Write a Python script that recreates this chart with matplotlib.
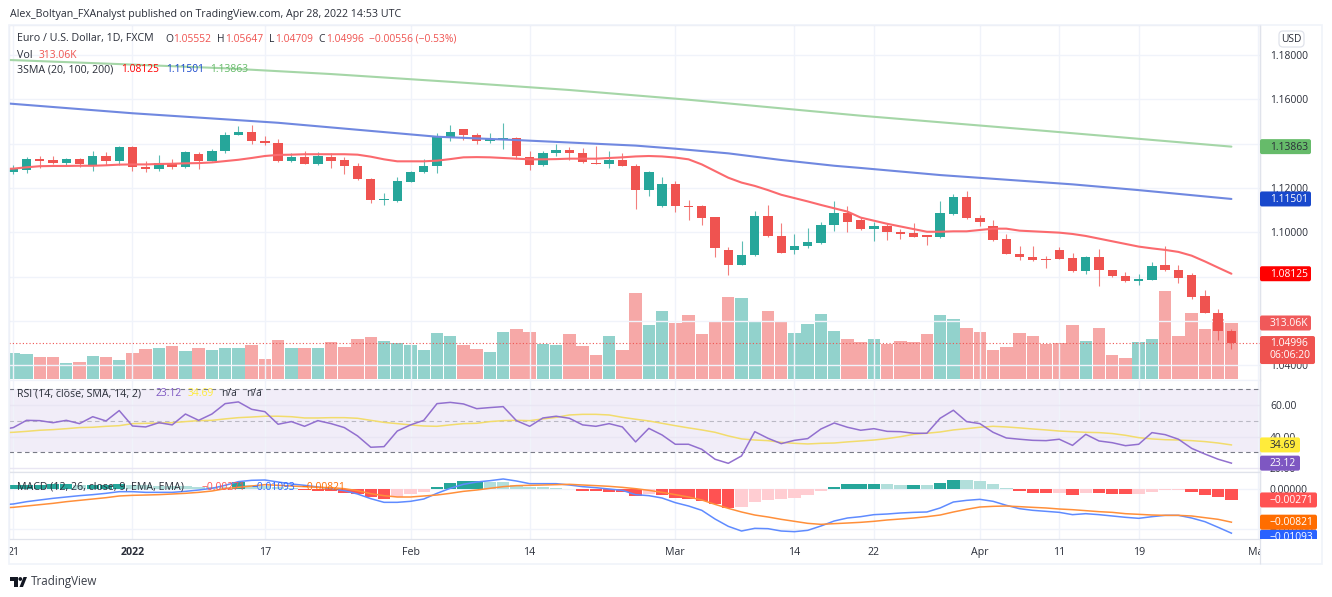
import numpy as np
import matplotlib
matplotlib.use("Agg")
import matplotlib.pyplot as plt
from matplotlib.patches import FancyBboxPatch, Polygon, Rectangle, Circle
from matplotlib.transforms import Bbox, IdentityTransform

plt.rcParams['font.family'] = ['Open Sans', 'DejaVu Sans']

opens = [1.1273,1.1282,1.1329,1.1324,1.1312,1.1329,1.1303,1.1344,1.1323,1.1385,1.1294,1.1285,1.1311,1.1293,1.1351,1.1321,1.1365,1.1439,1.1454,1.1410,1.1404,1.1321,1.1341,1.1308,1.1341,1.1324,1.1300,1.1242,1.1144,1.1139,1.1228,1.1270,1.1300,
 1.1430,1.1464,1.1440,1.1412,1.1418,1.1427,1.1338,1.1303,1.1356,1.1370,1.1356,1.1314,1.1308,1.1324,1.1300,1.1190,1.1117,1.1218,1.1118,1.1118,1.1067,1.0918,1.0852,1.0895,1.1075,1.0983,1.0918,1.0938,1.0953,1.1031,1.1088,
 1.1055,1.1013,1.1030,1.1002,1.0996,1.0987,1.0980,1.1082,1.1159,1.1066,1.1028,1.0969,1.0903,1.0890,1.0880,1.0920,1.0884,1.0825,1.0890,1.0829,1.0802,1.0781,1.0786,1.0850,1.0829,1.0805,1.0710,1.0637,1.05552]
closes = [1.1288,1.1329,1.1321,1.1312,1.1329,1.1306,1.1344,1.1323,1.1385,1.1293,1.1285,1.1311,1.1294,1.1362,1.1321,1.1368,1.1440,1.1454,1.1413,1.1403,1.1323,1.1341,1.1308,1.1345,1.1323,1.1300,1.1239,1.1144,1.1148,1.1231,1.1270,1.1300,1.1434,
 1.1451,1.1440,1.1413,1.1419,1.1427,1.1342,1.1303,1.1358,1.1370,1.1356,1.1317,1.1308,1.1324,1.1300,1.1190,1.1272,1.1218,1.1117,1.1115,1.1064,1.0929,1.0852,1.0895,1.1075,1.0981,1.0907,1.0939,1.0954,1.1031,1.1088,1.1047,
 1.1013,1.1030,1.1001,1.0993,1.0980,1.0980,1.1085,1.1159,1.1063,1.1046,1.0966,1.0902,1.0888,1.0874,1.0876,1.0880,1.0825,1.0890,1.0828,1.0804,1.0778,1.0787,1.0849,1.0828,1.0795,1.0707,1.0635,1.0552,1.04996]
highs = [1.1303,1.1341,1.1344,1.1344,1.1336,1.1336,1.1368,1.1362,1.1389,1.1387,1.1320,1.1349,1.1332,1.1365,1.1362,1.1376,1.1454,1.1479,1.1484,1.1434,1.1419,1.1358,1.1368,1.1362,1.1356,1.1341,1.1311,1.1243,1.1175,1.1248,1.1277,1.1330,1.1449,
 1.1484,1.1465,1.1446,1.1448,1.1494,1.1428,1.1367,1.1368,1.1400,1.1386,1.1379,1.1391,1.1367,1.1356,1.1308,1.1276,1.1248,1.1231,1.1145,1.1121,1.1067,1.0933,1.0960,1.1094,1.1121,1.1041,1.0992,1.1019,1.1044,1.1139,1.1118,
 1.1070,1.1048,1.1040,1.1014,1.1040,1.0988,1.1139,1.1172,1.1186,1.1076,1.1055,1.0990,1.0939,1.0939,1.0893,1.0932,1.0905,1.0894,1.0923,1.0830,1.0819,1.0813,1.0865,1.0938,1.0852,1.0814,1.0738,1.0653,1.05647]
lows = [1.1263,1.1266,1.1291,1.1308,1.1303,1.1293,1.1276,1.1303,1.1305,1.1278,1.1273,1.1278,1.1285,1.1290,1.1285,1.1320,1.1356,1.1437,1.1398,1.1392,1.1315,1.1318,1.1306,1.1305,1.1291,1.1264,1.1236,1.1133,1.1123,1.1137,1.1225,1.1269,1.1269,
 1.1413,1.1416,1.1400,1.1404,1.1376,1.1332,1.1282,1.1300,1.1345,1.1326,1.1314,1.1306,1.1288,1.1299,1.1106,1.1165,1.1115,1.1090,1.1057,1.1032,1.0888,1.0808,1.0851,1.0891,1.0978,1.0906,1.0900,1.0930,1.0948,1.1007,1.1002,
 1.1010,1.0962,1.0963,1.0968,1.0978,1.0944,1.0972,1.1079,1.1061,1.1028,1.0962,1.0900,1.0873,1.0871,1.0837,1.0877,1.0822,1.0813,1.0759,1.0799,1.0777,1.0762,1.0784,1.0825,1.0771,1.0698,1.0634,1.0515,1.04709]
volumes_k = [145,138,125,125,89,97,129,121,106,143,168,175,184,158,171,162,171,171,192,110,216,175,171,171,205,181,224,233,212,199,192,162,257,238,188,168,151,263,281,261,197,192,253,184,134,240,160,
 482,304,378,313,358,250,326,460,453,320,382,317,259,309,365,266,225,209,222,196,214,209,250,358,337,287,263,160,177,255,238,194,201,304,211,283,136,116,205,225,494,238,369,279,337,313.06]
# Indicator series begin one session before the first visible candle.
sma20 = [1.1284,1.1287,1.1293,1.1298,1.1299,1.1299,1.1300,1.1300,1.1302,1.1305,1.1306,1.1306,1.1308,1.1309,1.1311,1.1312,1.1315,1.1321,1.1327,1.1335,1.1344,1.1349,1.1350,1.1352,1.1352,1.1352,1.1352,1.1350,1.1341,1.1329,1.1320,1.1320,1.1320,1.1323,
 1.1330,1.1338,1.1339,1.1338,1.1335,1.1332,1.1329,1.1329,1.1330,1.1332,1.1332,1.1332,1.1335,1.1338,1.1342,1.1344,1.1342,1.1337,1.1329,1.1306,1.1276,1.1246,1.1224,1.1209,1.1190,1.1169,1.1154,1.1139,1.1123,1.1108,1.1093,
 1.1066,1.1052,1.1038,1.1026,1.1014,1.1002,1.1002,1.1004,1.1004,1.1010,1.1016,1.1016,1.1007,1.1004,1.1001,1.0998,1.0992,1.0983,1.0971,1.0959,1.0947,1.0935,1.0927,1.0920,1.0911,1.0894,1.0868,1.0840,1.08125]
sma100_days = [-1,9,20,32,38,47,50,54,58,62,64,70,80,85,92]
sma100 = [1.1584,1.1537,1.1494,1.1431,1.1416,1.1391,1.1377,1.1356,1.1326,1.1300,1.1290,1.1258,1.1216,1.1190,1.11501]
sma200_days = [-1,8,16,24,33,42,51,64,78,92]
sma200 = [1.1779,1.1759,1.1740,1.1714,1.1679,1.1642,1.1598,1.1526,1.1457,1.13863]
rsi = [44.2,45.7,50.3,50.1,48.8,50.3,48.2,52.6,49.9,56.5,46.7,46.1,48.8,47.4,54.3,50.3,54.3,60.9,62.0,57.3,55.8,47.8,49.5,46.5,50.1,48.2,45.7,40.4,33.2,33.6,43.5,47.4,50.3,60.9,
 61.7,60.7,57.7,58.4,59.0,50.1,46.5,51.8,52.9,51.6,47.4,46.5,48.2,46.1,36.6,45.2,41.0,35.1,35.1,31.9,25.6,23.0,27.7,43.1,38.9,35.5,37.6,38.7,44.8,48.6,45.9,44.0,45.0,43.3,
 43.1,42.1,42.1,51.6,56.7,49.5,48.2,42.7,39.1,38.3,37.6,37.4,38.3,34.4,41.4,37.2,36.1,34.2,35.1,42.5,41.2,38.3,32.5,28.9,25.6,23.12]
rsi_ma = [42.4,42.7,43.3,44.0,44.4,45.0,45.7,45.9,46.5,46.9,48.2,48.4,48.6,48.8,49.5,50.1,50.3,51.2,52.0,52.4,52.9,52.9,52.6,51.8,51.8,52.0,52.0,51.6,50.3,49.0,48.2,47.4,46.7,46.5,
 47.4,48.2,48.4,49.5,50.1,50.3,50.1,51.2,52.2,53.7,54.1,54.1,53.7,52.2,51.0,49.9,48.4,46.9,45.5,44.2,42.7,40.4,38.5,37.8,37.4,36.3,35.7,35.3,35.7,35.9,36.6,37.2,37.8,38.7,
 39.9,41.4,42.1,42.9,44.2,45.0,45.9,46.5,46.1,45.5,44.8,44.2,43.5,43.1,42.7,42.5,41.9,40.8,39.3,38.5,38.0,37.8,37.4,36.8,35.9,34.69]
macd = [-.00395,-.00371,-.00314,-.00272,-.00231,-.00198,-.00165,-.00140,-.00107,-.00066,-.00066,-.00083,-.00083,-.00083,-.00058,-.00025,.00017,.00091,.00182,.00215,.00223,.00173,.00124,.00091,.00050,.00008,-.00041,-.00124,-.00239,-.00330,-.00330,-.00305,-.00248,-.00107,
 .00017,.00116,.00173,.00206,.00248,.00198,.00132,.00132,.00132,.00099,.00058,.00033,.00000,-.00033,-.00140,-.00165,-.00223,-.00338,-.00421,-.00528,-.00743,-.00924,-.01040,-.00974,-.00982,-.01040,-.01056,-.01023,-.00916,-.00792,-.00718,-.00685,-.00635,-.00619,
 -.00594,-.00578,-.00569,-.00470,-.00322,-.00281,-.00256,-.00305,-.00404,-.00487,-.00528,-.00553,-.00578,-.00635,-.00611,-.00635,-.00668,-.00701,-.00726,-.00685,-.00652,-.00652,-.00718,-.00809,-.00949,-.01093]
signal = [-.00470,-.00454,-.00421,-.00388,-.00355,-.00314,-.00281,-.00248,-.00215,-.00173,-.00157,-.00149,-.00140,-.00124,-.00107,-.00083,-.00050,.00008,.00041,.00074,.00107,.00091,.00074,.00058,.00041,.00033,.00008,-.00041,-.00116,-.00165,-.00198,-.00198,-.00173,-.00149,
 -.00107,-.00058,-.00025,.00017,.00058,.00083,.00091,.00099,.00107,.00116,.00099,.00083,.00066,.00041,.00008,-.00033,-.00083,-.00140,-.00198,-.00272,-.00380,-.00479,-.00569,-.00644,-.00693,-.00751,-.00800,-.00850,-.00875,-.00858,-.00842,-.00825,-.00800,-.00767,
 -.00743,-.00718,-.00685,-.00644,-.00569,-.00503,-.00446,-.00429,-.00421,-.00437,-.00454,-.00470,-.00495,-.00512,-.00536,-.00561,-.00578,-.00611,-.00627,-.00644,-.00652,-.00652,-.00668,-.00710,-.00751,-.00821]
hist = [.00095,.00100,.00108,.00112,.00116,.00100,.00104,.00110,.00128,.00100,.00088,.00076,.00072,.00068,.00060,.00056,.00052,.00168,.00100,.00072,.00040,.00016,-.00024,-.00040,-.00056,-.00096,-.00136,-.00192,-.00240,-.00192,-.00112,-.00064,.00056,
 .00144,.00192,.00200,.00184,.00176,.00104,.00048,.00040,.00032,.00008,-.00040,-.00056,-.00080,-.00084,-.00168,-.00136,-.00160,-.00232,-.00256,-.00288,-.00368,-.00464,-.00448,-.00320,-.00272,-.00256,-.00216,-.00144,-.00056,.00056,.00112,.00116,.00128,.00120,
 .00104,.00104,.00088,.00160,.00232,.00216,.00192,.00120,.00032,-.00048,-.00088,-.00104,-.00100,-.00144,-.00104,-.00106,-.00120,-.00124,-.00120,-.00072,-.00032,-.00030,-.00064,-.00144,-.00208,-.00271]
date_ticks = [0,9,19,30,39,50,59,65,73,79,85,94]
date_labels = ['21','2022','17','Feb','14','Mar','14','22','Apr','11','19','May']
price_ticks = [1.04,1.06,1.08,1.10,1.12,1.14,1.16,1.18]
rsi_ticks = [20,40,60]
macd_ticks = [-0.01,0.0]

W, H = 1332, 597
UP, DOWN = '#26a69a', '#ef5350'
GRID, BORDER, TXT = '#f0f3fa', '#e0e3eb', '#2a2e39'
FS, NUM = 7.7, 7.4

fig = plt.figure(figsize=(W/100, H/100), dpi=100, facecolor='white')
L, R = 9, 1260
def pane(top, bottom):
    return fig.add_axes([L/W, 1-bottom/H, (R-L)/W, (bottom-top)/H])

ax = pane(25, 380); ax_rsi = pane(380, 472); ax_macd = pane(472, 539)
ax_vol = ax.twinx()
ax_vol.set_zorder(ax.get_zorder()-1); ax.patch.set_visible(False)

x = np.arange(len(closes))
x_ind = np.arange(-1, len(closes))
xlim = (-0.325, 94.16)
o, c, h, l = map(np.array, (opens, closes, highs, lows))
cols = [UP if a >= b else DOWN for a, b in zip(c, o)]

# volume
ax_vol.bar(x, volumes_k, width=0.94, color=cols, alpha=0.5, linewidth=0)
ax_vol.set_ylim(-5.6, 1979)
ax_vol.set_yticks([]); ax_vol.set_xlim(*xlim)
ax_vol.set_xticks(date_ticks)
ax_vol.tick_params(axis='x', length=0, labelbottom=False)
ax_vol.grid(axis='x', color=GRID, lw=1)
ax_vol.set_axisbelow(True)

# candles
ax.vlines(x, l, h, colors=cols, lw=0.8, alpha=0.75, zorder=3)
ax.bar(x, np.maximum(np.abs(c-o), 0.00012), bottom=np.minimum(c, o), width=0.71, color=cols, linewidth=0, zorder=3.1)
ax.plot(sma200_days, sma200, color='#a5d6a7', lw=1.5, zorder=4, solid_capstyle='round')
ax.plot(sma100_days, sma100, color='#7088e0', lw=1.5, zorder=4, solid_capstyle='round')
ax.plot(x_ind, sma20, color='#fb6a6e', lw=1.5, zorder=4, solid_capstyle='round')
ax.axhline(closes[-1], color=DOWN, lw=0.8, ls=(0, (1, 2)), zorder=4.5)
ax.set_xlim(*xlim)
ax.set_ylim(1.18-(380-55)/2215, 1.18+(55-25)/2215)
ax.set_yticks(price_ticks); ax.set_yticklabels([f'{v:.5f}' for v in price_ticks])
ax.grid(axis='y', color=GRID, lw=1); ax.set_axisbelow(True)

# rsi
ax_rsi.axhspan(30, 70, color='#7e57c2', alpha=0.1, lw=0, zorder=0)
for lev, a in ((70, 1), (50, .45), (30, 1)):
    ax_rsi.axhline(lev, color='#787b86', alpha=a, lw=0.8, ls=(0, (4, 3)), zorder=1)
ax_rsi.plot(x_ind, rsi_ma, color='#f2dc6c', lw=1.1, zorder=3)
ax_rsi.plot(x_ind, rsi, color='#9270cf', lw=1.1, zorder=3.1)
ax_rsi.set_xlim(*xlim)
ax_rsi.set_ylim(30-(472-452.3)/1.575, 70+(389.3-380)/1.575)
ax_rsi.set_yticks(rsi_ticks); ax_rsi.set_yticklabels([f'{v:.2f}' for v in rsi_ticks])
ax_rsi.grid(axis='y', color='#e9e6f3', lw=1); ax_rsi.set_axisbelow(True)

# macd
hcols = []
prev = 0
for v in hist:
    if v >= 0:
        hcols.append('#26a69a' if v >= prev else '#b2dfdb')
    else:
        hcols.append('#ff5252' if v < prev else '#ffcdd2')
    prev = v
ax_macd.bar(x, hist, width=0.94, color=hcols, linewidth=0, zorder=2)
ax_macd.plot(x_ind, macd, color='#5f8bff', lw=1.1, zorder=3)
ax_macd.plot(x_ind, signal, color='#ff8f3a', lw=1.1, zorder=3.1)
ax_macd.set_xlim(*xlim)
ax_macd.set_ylim(-(539-489)/4040, (489-472)/4040)
ax_macd.set_yticks(macd_ticks); ax_macd.set_yticklabels(['\u22120.01000', '0.00000'])
ax_macd.grid(axis='y', color=GRID, lw=1); ax_macd.set_axisbelow(True)

for a in (ax, ax_rsi, ax_macd):
    for s in a.spines.values():
        s.set_color(BORDER); s.set_linewidth(0.9)
    a.yaxis.tick_right()
    a.tick_params(axis='y', length=0, pad=7.2, labelsize=NUM, labelcolor=TXT)
    a.set_xticks(date_ticks)
    a.tick_params(axis='x', length=0, labelbottom=False)
    a.grid(axis='x', color=GRID, lw=1)
for s in ax_vol.spines.values():
    s.set_visible(False)
ax.spines['bottom'].set_color(GRID); ax_rsi.spines['top'].set_color(GRID)

ax_macd.set_xticklabels(date_labels)
ax_macd.tick_params(axis='x', labelbottom=True, labelsize=FS, labelcolor=TXT, pad=6)
clip_dates = Bbox([[L, 0], [R, H]])
for lab in ax_macd.get_xticklabels():
    lab.set_clip_on(True); lab.set_clip_box(clip_dates)
    if lab.get_text() == '2022':
        lab.set_fontweight('bold')

# frame
fig.add_artist(Rectangle((L, H-564), 1322-L, 564-25, transform=IdentityTransform(), fill=False, ec=GRID, lw=1.2, zorder=0.5))
fig.add_artist(Rectangle((R, H-564), 0, 564-25, transform=IdentityTransform(), fill=False, ec=BORDER, lw=0.9, zorder=0.5))

def T(px, py, s, color=TXT, **kw):
    return fig.text(px/W, 1-py/H, s, color=color, va='center', ha=kw.pop('ha', 'left'), fontsize=kw.pop('fontsize', NUM), zorder=kw.pop('zorder', 7), **kw)

def tag(a, val, s, bg, fg='white', right=1311, half=7.5, clip=None, shift=0):
    yd = a.transData.transform((0, val))[1] - shift
    cb = Bbox([[R, H-clip[1]], [1330, H-clip[0]]]) if clip else None
    p = FancyBboxPatch((R, yd-half), right-R, 2*half, boxstyle='round,pad=0,rounding_size=2', transform=IdentityTransform(), fc=bg, ec='none', zorder=5)
    fig.add_artist(p)
    t = fig.text(1270/W, (yd-0.5)/H, s, color=fg, va='center', ha='left', fontsize=NUM, zorder=6)
    if cb is not None:
        p.set_clip_box(cb); t.set_clip_on(True); t.set_clip_box(cb)

# price tags
tag(ax, sma200[-1], '1.13863', '#66bb6a', TXT)
tag(ax, sma100[-1], '1.11501', '#1848cc')
tag(ax, sma20[-1], '1.08125', '#ff0000')
tag(ax_vol, volumes_k[-1], '313.06K', '#f0595a')
yc = ax.transData.transform((0, closes[-1]))[1]
fig.add_artist(FancyBboxPatch((R, yc-21), 1315-R, 28, boxstyle='round,pad=0,rounding_size=2', transform=IdentityTransform(), fc=DOWN, ec='none', zorder=5))
T(1270, 343, '1.04996', 'white')
T(1270, 356, '06:06:20', 'white')
tag(ax_rsi, rsi_ma[-1], '34.69', '#ffeb3b', TXT, right=1300)
tag(ax_rsi, rsi[-1], '23.12', '#7e57c2', right=1300)
tag(ax_macd, hist[-1], '\u22120.00271', '#ff5252', right=1317)
tag(ax_macd, macd[-1], '\u22120.01093', '#2962ff', right=1317, clip=(472, 539), shift=4)
tag(ax_macd, signal[-1], '\u22120.00821', '#ff6d00', right=1317)

# usd box
fig.add_artist(FancyBboxPatch((1279, H-47), 25, 16, boxstyle='round,pad=0,rounding_size=4', transform=IdentityTransform(), fc='white', ec=BORDER, lw=0.9, zorder=5))
T(1291.5, 39, 'USD', ha='center')

# header / legends
T(10, 15, 'Alex_Boltyan_FXAnalyst published on TradingView.com, Apr 28, 2022 14:53 UTC', fontsize=FS)
RED = DOWN
T(17, 39, 'Euro / U.S. Dollar, 1D, FXCM', fontsize=FS)
T(165, 39, 'O'); T(173, 39, '1.05552', RED)
T(217, 39, 'H'); T(225, 39, '1.05647', RED)
T(269, 39, 'L'); T(275, 39, '1.04709', RED)
T(318, 39, 'C'); T(326, 39, '1.04996', RED)
T(369, 39, '\u22120.00556 (\u22120.53%)', RED)
T(17, 55, 'Vol', fontsize=FS); T(39, 55, '313.06K', RED)
T(17, 70, '3SMA (20, 100, 200)', fontsize=FS)
T(121, 70, '1.08125', '#ff0000'); T(166, 70, '1.11501', '#1848cc'); T(210, 70, '1.13863', '#66bb6a')
T(17, 394, 'RSI (14, close, SMA, 14, 2)', fontsize=FS)
T(155, 394, '23.12', '#7e57c2'); T(188, 394, '34.69', '#ffeb3b'); T(221, 394, 'n/a'); T(246, 394, 'n/a')
T(17, 487, 'MACD (12, 26, close, 9, EMA, EMA)', fontsize=FS)
T(202, 487, '\u22120.00271', '#ff5252'); T(252, 487, '\u22120.01093', '#2962ff'); T(302, 487, '\u22120.00821', '#ff6d00')

# TradingView mark
def px(pts):
    return [(a, H-b) for a, b in pts]
for pts in ([(10, 577), (18, 577), (18, 587), (14, 587), (14, 581), (10, 581)],
            [(19.5, 587), (23.5, 577), (27, 577), (23, 587)]):
    fig.add_artist(Polygon(px(pts), closed=True, transform=IdentityTransform(), fc='#131722', ec='none'))
fig.add_artist(Circle((20.3, H-579), 1.9, transform=IdentityTransform(), fc='#131722', ec='none'))
T(31, 581.5, 'TradingView', '#3a3e48', fontsize=8.4)

fig.savefig('out.png', dpi=100, facecolor='white')
